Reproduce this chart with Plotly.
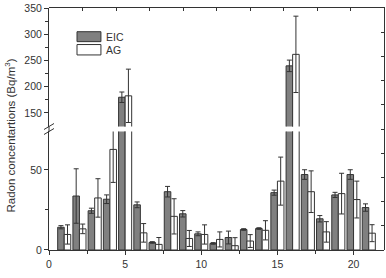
import plotly.graph_objects as go

sites = list(range(1, 22))
eic = [14.2, 33.7, 24.5, 31.7, 180, 28.2, 4.7, 36.4, 22.6, 10.1, 4.1, 7.8, 12.8, 13.4, 35.8, 240, 47.1, 19.5, 34.4, 47.1, 26.5]
eic_err = [1, 17, 1.6, 2.7, 10, 1.8, 0.5, 3.3, 2, 1.2, 0.5, 4, 0.5, 0.5, 1.6, 11, 3, 2, 1.6, 3, 2.3]
ag = [9.7, 13.2, 32.5, 62.8, 182.7, 10.7, 3.5, 21, 7.2, 9.7, 6.6, 2.7, 5.6, 12.3, 43, 262, 36.4, 11.3, 35.2, 31.5, 10.5]
ag_err = [6, 3, 12, 20.6, 51, 5.8, 4.3, 11, 5, 6, 4.7, 5, 4, 6, 15, 73, 13, 6.4, 12.7, 11.5, 5.3]

EIC_FILL = "#808080"
EDGE = "#333333"
FONT = "Liberation Sans, Arial, sans-serif"

fig = go.Figure()
for xa, ya in (("x", "y"), ("x2", "y2")):
    fig.add_trace(go.Bar(
        x=sites, y=eic, name="EIC", xaxis=xa, yaxis=ya, offsetgroup="EIC",
        marker=dict(color=EIC_FILL, line=dict(color=EDGE, width=1)),
        error_y=dict(type="data", array=eic_err, color=EDGE, thickness=1, width=2.5),
        showlegend=False))
    fig.add_trace(go.Bar(
        x=sites, y=ag, name="AG", xaxis=xa, yaxis=ya, offsetgroup="AG",
        marker=dict(color="white", line=dict(color=EDGE, width=1)),
        error_y=dict(type="data", array=ag_err, color=EDGE, thickness=1, width=2.5),
        showlegend=False))

low_top = 0.4898
up_bot = 0.5102
tickfont = dict(family=FONT, size=10.5, color="#333333")

fig.update_layout(
    width=386, height=278,
    margin=dict(l=49, r=2, t=5, b=28),
    paper_bgcolor="white", plot_bgcolor="rgba(0,0,0,0)",
    barmode="group", bargap=0.14, bargroupgap=0,
    font=dict(family=FONT, size=10.5, color="#333333"),
    xaxis=dict(range=[0, 22], anchor="y", showline=True, linecolor=EDGE, linewidth=1,
               ticks="outside", ticklen=4, tickcolor=EDGE, dtick=5, tick0=0,
               minor=dict(dtick=2.5, ticks="outside", ticklen=3, tickcolor=EDGE),
               showgrid=False, zeroline=False, tickfont=tickfont),
    xaxis2=dict(matches="x", anchor="y2", visible=False),
    # frame axes (top and right), 10 divisions each
    xaxis3=dict(domain=[0, 1], anchor="y3", side="top", range=[0, 10], dtick=1, tick0=0,
                showline=True, linecolor=EDGE, linewidth=1, ticks="inside", ticklen=3,
                tickcolor=EDGE, showticklabels=False, showgrid=False, zeroline=False),
    yaxis=dict(domain=[0, low_top], range=[0, 74], anchor="x", showline=True, linecolor=EDGE,
               linewidth=1, ticks="outside", ticklen=4, tickcolor=EDGE, tickvals=[0, 50],
               minor=dict(tickvals=[25], ticks="outside", ticklen=3, tickcolor=EDGE),
               showgrid=False, zeroline=False, tickfont=tickfont),
    yaxis2=dict(domain=[up_bot, 1], range=[124, 350.6], anchor="x2", showline=True, linecolor=EDGE,
                linewidth=1, ticks="outside", ticklen=4, tickcolor=EDGE,
                tickvals=[150, 200, 250, 300, 350], ticklabeloverflow="allow",
                minor=dict(tickvals=[175, 225, 275, 325], ticks="outside", ticklen=3, tickcolor=EDGE),
                showgrid=False, zeroline=False, tickfont=tickfont),
    yaxis3=dict(domain=[0, 1], range=[0, 10], anchor="x3", side="right", dtick=1, tick0=0,
                showline=True, linecolor=EDGE, linewidth=1,
                ticks="inside", ticklen=3, tickcolor=EDGE, showticklabels=False,
                showgrid=False, zeroline=False),
)

# the frame axes need a subplot; give it an empty helper trace
fig.add_trace(go.Scatter(x=[], y=[], xaxis="x3", yaxis="y3", showlegend=False, hoverinfo="skip"))

shapes = [
    # left spine across the gap
    dict(type="line", xref="paper", yref="paper", x0=0, x1=0, y0=low_top, y1=up_bot,
         line=dict(color=EDGE, width=1)),
]
# break marks
for dy in (-2.5, 2.5):
    shapes.append(dict(type="line", xref="paper", yref="paper", xsizemode="pixel", ysizemode="pixel",
                       xanchor=0, yanchor=0.5, x0=-5, x1=5, y0=dy - 3, y1=dy + 3,
                       line=dict(color=EDGE, width=1)))
# legend boxes
shapes.append(dict(type="rect", xref="paper", yref="paper", x0=0.0836, x1=0.155, y0=0.861, y1=0.902,
                   fillcolor=EIC_FILL, line=dict(color=EDGE, width=1)))
shapes.append(dict(type="rect", xref="paper", yref="paper", x0=0.0836, x1=0.155, y0=0.806, y1=0.849,
                   fillcolor="white", line=dict(color=EDGE, width=1)))

annotations = [
    dict(text="EIC", xref="paper", yref="paper", x=0.165, y=0.8815, xanchor="left", yanchor="middle",
         showarrow=False, font=dict(family=FONT, size=10.5, color="#333333")),
    dict(text="AG", xref="paper", yref="paper", x=0.165, y=0.8275, xanchor="left", yanchor="middle",
         showarrow=False, font=dict(family=FONT, size=10.5, color="#333333")),
    dict(text="Radon concentartions (Bq/m<sup>3</sup>)", xref="paper", yref="paper", x=0, y=0.473,
         xshift=-39, textangle=-90, xanchor="center", yanchor="middle", showarrow=False,
         font=dict(family=FONT, size=11.5, color="#333333")),
]
fig.update_layout(shapes=shapes, annotations=annotations)

fig.write_html("out.html")
